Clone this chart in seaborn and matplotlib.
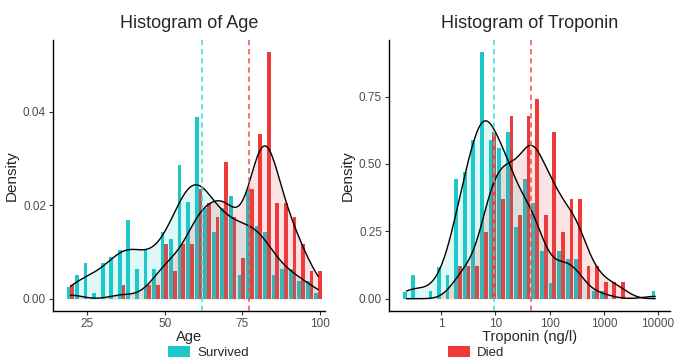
import numpy as np
import pandas as pd
import matplotlib
matplotlib.use("Agg")
import matplotlib.pyplot as plt
from matplotlib.patches import Patch
from matplotlib.ticker import FixedLocator, NullLocator, FixedFormatter
import seaborn as sns

# ---------------- data ----------------
groups = ["Survived", "Died"]
palette = {"Survived": "#1CC8C8", "Died": "#EE3A3A"}
vline_colors = {"Survived": "#3AD8D8", "Died": "#F24C4C"}

# Age histogram: bin centres (years) and densities
age_bins = [19.6, 22.35, 25.1, 27.86, 30.61, 33.36, 36.11, 38.86, 41.62, 44.37,
            47.12, 49.87, 52.62, 55.38, 58.13, 60.88, 63.63, 66.38, 69.14, 71.89,
            74.64, 77.39, 80.14, 82.9, 85.65, 88.4, 91.15, 93.9, 96.66, 99.4]
age_survived = [0.0025, 0.0051, 0.0077, 0.0012, 0.0077, 0.0090, 0.0104, 0.0169, 0.0064, 0.0104,
                0.0064, 0.0143, 0.0129, 0.0286, 0.0208, 0.0390, 0.0195, 0.0143, 0.0195, 0.0221,
                0.0051, 0.0233, 0.0156, 0.0143, 0.0051, 0.0064, 0.0064, 0.0039, 0.0039, 0.0013]
age_died = [0.0029, 0.0, 0.0, 0.0, 0.0, 0.0, 0.0029, 0.0, 0.0, 0.0029,
            0.0029, 0.0117, 0.0059, 0.0117, 0.0117, 0.0235, 0.0205, 0.0176, 0.0293, 0.0176,
            0.0088, 0.0235, 0.0352, 0.0528, 0.0205, 0.0205, 0.0176, 0.0117, 0.0059, 0.0059]
age_medians = [62, 77]
age_ticks = [25, 50, 75, 100]
age_yticks = [0.00, 0.02, 0.04]

# Troponin histogram: bin centres (ng/l, log-spaced) and densities
trop_bins = [0.228, 0.328, 0.472, 0.680, 0.979, 1.41, 2.03, 2.92, 4.21, 6.06,
             8.73, 12.6, 18.1, 26.0, 37.5, 54.0, 77.7, 112, 161, 232,
             334, 481, 692, 996, 1434, 2065, 2972, 4281, 6166, 8872]
trop_survived = [0.025, 0.0885, 0.0, 0.0295, 0.118, 0.0885, 0.4425, 0.472, 0.590, 0.9145,
                 0.590, 0.5605, 0.6195, 0.2655, 0.4425, 0.354, 0.177, 0.059, 0.177, 0.1475,
                 0.1475, 0.0, 0.0295, 0.0295, 0.0, 0.0, 0.0, 0.0, 0.0, 0.0295]
trop_died = [0.0, 0.0, 0.0, 0.0, 0.0, 0.0, 0.123, 0.123, 0.123, 0.247,
             0.617, 0.370, 0.679, 0.309, 0.679, 0.741, 0.309, 0.617, 0.247, 0.370,
             0.370, 0.123, 0.123, 0.062, 0.062, 0.062, 0.0, 0.0, 0.0, 0.0]
trop_medians = [9.5, 45]
trop_ticks = [1, 10, 100, 1000, 10000]
trop_yticks = [0.00, 0.25, 0.50, 0.75]

# ---------------- style ----------------
sns.set_style("ticks")
plt.rcParams["font.family"] = ["Liberation Sans", "DejaVu Sans"]

fig = plt.figure(figsize=(6.75, 3.6), dpi=100)
ax1 = fig.add_axes([53 / 675, 1 - 311 / 360, 272 / 675, 271 / 360])
ax2 = fig.add_axes([389 / 675, 1 - 311 / 360, 281 / 675, 271 / 360])


def make_df(bins, surv, died):
    return pd.DataFrame({
        "x": list(bins) * 2,
        "d": list(surv) + list(died),
        "g": ["Survived"] * len(bins) + ["Died"] * len(bins),
    })


def panel(ax, bins, surv, died, medians, log, bw):
    df = make_df(bins, surv, died)
    if log:
        lo, hi = np.log10(bins[0]), np.log10(bins[-1])
    else:
        lo, hi = bins[0], bins[-1]
    half = (hi - lo) / (len(bins) - 1) / 2
    sns.histplot(data=df, x="x", weights="d", hue="g", hue_order=groups,
                 palette=palette, bins=len(bins), binrange=(lo - half, hi + half),
                 multiple="dodge", shrink=0.88, stat="count", alpha=1,
                 linewidth=0, log_scale=log,
                 legend=False, ax=ax, zorder=2)
    for g, vals in zip(groups, [surv, died]):
        sns.kdeplot(x=bins, weights=vals, bw_method=bw, cut=0, fill=True,
                    color=palette[g], alpha=0.14, linewidth=0, log_scale=log,
                    ax=ax, zorder=3)
        sns.kdeplot(x=bins, weights=vals, bw_method=bw, cut=0, fill=False,
                    color="black", linewidth=1.0, log_scale=log, ax=ax, zorder=4)
    for g, m in zip(groups, medians):
        ax.axvline(m, color=vline_colors[g], linestyle=(0, (3.5, 2.5)),
                   linewidth=1.1, zorder=5)


panel(ax1, age_bins, age_survived, age_died, age_medians, False, 0.27)
panel(ax2, trop_bins, trop_survived, trop_died, trop_medians, True, 0.3)

ax1.set_xlim(14.0, 101.6)
ax1.set_ylim(-0.00257, 0.0554)
ax1.xaxis.set_major_locator(FixedLocator(age_ticks))
ax1.set_xticklabels([str(t) for t in age_ticks])
ax1.yaxis.set_major_locator(FixedLocator(age_yticks))
ax1.set_yticklabels([f"{t:.2f}" for t in age_yticks])

ax2.set_xlim(10 ** -0.965, 10 ** 4.22)
ax2.set_ylim(-0.0456, 0.96)
ax2.xaxis.set_major_locator(FixedLocator(trop_ticks))
ax2.xaxis.set_minor_locator(NullLocator())
ax2.xaxis.set_major_formatter(FixedFormatter([str(t) for t in trop_ticks]))
ax2.yaxis.set_major_locator(FixedLocator(trop_yticks))
ax2.set_yticklabels([f"{t:.2f}" for t in trop_yticks])

for ax, title, xl in [(ax1, "Histogram of Age", "Age"),
                      (ax2, "Histogram of Troponin", "Troponin (ng/l)")]:
    sns.despine(ax=ax)
    ax.set_title(title, fontsize=13, pad=9)
    ax.set_xlabel(xl, fontsize=10.5, labelpad=0)
    ax.set_ylabel("Density", fontsize=11, labelpad=3)
    ax.tick_params(axis="both", labelsize=8.5, labelcolor="#4D4D4D",
                   length=3, width=0.8, color="#333333", pad=2)
    for s in ["left", "bottom"]:
        ax.spines[s].set_linewidth(1.0)
        ax.spines[s].set_color("black")

for g, x0 in [("Survived", 168), ("Died", 448)]:
    fig.legend(handles=[Patch(facecolor=palette[g], edgecolor="none", label=g)],
               loc="lower left", bbox_to_anchor=(x0 / 675, 1 / 360), frameon=False,
               handlelength=1.7, handleheight=1.0, handletextpad=0.5,
               borderpad=0.0, borderaxespad=0.0,
               prop={"family": ["Liberation Sans", "DejaVu Sans"], "size": 9.5})

fig.savefig("out.png", dpi=100)
